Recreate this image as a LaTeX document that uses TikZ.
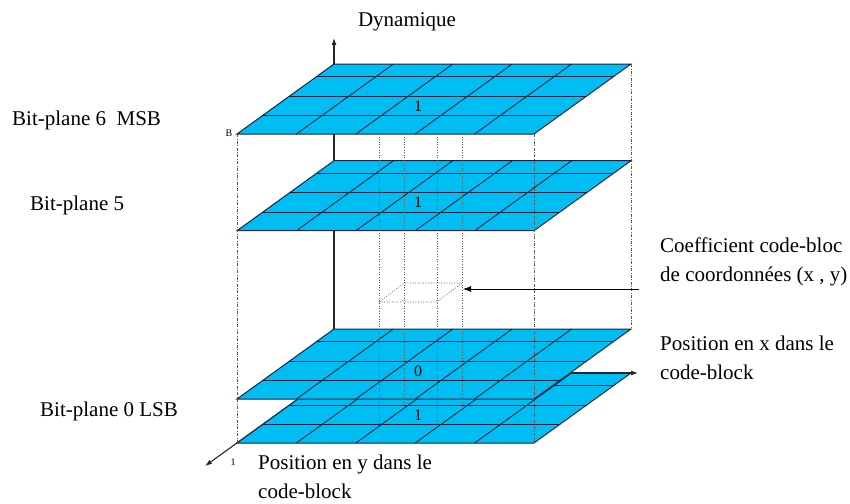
\documentclass[tikz,border=0pt]{standalone}
\usepackage{fontspec}
\setmainfont{Liberation Serif}
\usetikzlibrary{arrows.meta}

\definecolor{planeblue}{RGB}{0,190,242}
\definecolor{gridnavy}{RGB}{25,35,70}
\definecolor{guidegray}{RGB}{90,90,90}

\tikzset{
  gridline/.style={gridnavy, line width=0.9pt},
  axisline/.style={black!85, line width=1.1pt, -{Latex[length=7pt,width=5pt]}},
  guide/.style={guidegray, line width=0.7pt, dash pattern=on 3pt off 1.5pt on 0.8pt off 1.5pt},
  dotguide/.style={guidegray, line width=0.6pt, dash pattern=on 1pt off 1.6pt},
  label/.style={font=\fontsize{21}{29}\selectfont, inner sep=0pt, align=left},
  digit/.style={font=\fontsize{16}{18}\selectfont, inner sep=0pt},
  corner/.style={font=\fontsize{10}{12}\selectfont, inner sep=0pt},
}

% one bit-plane: #1,#2 = front-left corner, #3 = node name, #4 = bit value
\newcommand{\bitplane}[4]{%
  \filldraw[fill=planeblue, draw=gridnavy, line width=1pt]
    (#1,#2) -- ++(297,0) -- ++(97,-70) -- ++(-297,0) -- cycle;
  \foreach \r in {0.18,0.457,0.733}
    \draw[gridline] ({#1+97*(1-\r)},{#2-70*(1-\r)}) -- ++(297,0);
  \foreach \k in {1,...,4}
    \draw[gridline] ({#1+97+59.4*\k},{#2-70}) -- ({#1+59.4*\k},#2);
  \node[digit] (#3) at ({#1+181},{#2-28}) {#4};
}

\begin{document}
\begin{tikzpicture}[x=1pt, y=-1pt]
    \useasboundingbox (0,0) rectangle (850,503);

    % Axes
    \coordinate (O) at (334,373);
    \coordinate (zTip) at (334,38);
    \coordinate (xTip) at (638,373);
    \coordinate (yTip) at (205,466);
    \draw[axisline] (O) -- (zTip);
    \draw[axisline] (O) -- (yTip);

    % Bit-planes, top to bottom
    \bitplane{237}{134}{bit6}{1}
    \bitplane{237}{230.7}{bit5}{1}
    \bitplane{237}{443}{bitLow}{1}
    \draw[axisline] (O) -- (xTip);
    \bitplane{237}{399}{bit0}{0}

    % Projection guides
    \draw[guide] (237,134) -- (237,443);
    \draw[guide] (534,134) -- (534,443);
    \draw[guide] (631,64) -- (631,328);
    \foreach \gx/\gy in {379/424, 404/405, 437/424, 462/405}
        \draw[dotguide] (\gx,134) -- (\gx,\gy);

    % Selected coefficient
    \draw[dotguide] (379,302) -- (437,302) -- (462,283) -- (404,283) -- cycle;
    \coordinate (coefFrom) at (639,289);
    \coordinate (cellEast) at (463,289);
    \draw[line width=0.9pt, -{Latex[length=8pt,width=6pt]}] (coefFrom) -- (cellEast);

    % Labels
    \node[label] (dyn) at (407,22) {Dynamique};
    \node[label, anchor=west] (msb) at (12,120) {Bit-plane 6\ \ MSB};
    \node[label, anchor=west] (bp5) at (30,205) {Bit-plane 5};
    \node[label, anchor=west] (lsb) at (40,411) {Bit-plane 0 LSB};
    \node[label, anchor=west] (coef) at (660,261.5) {Coefficient code-bloc\\de coordonnées (x , y)};
    \node[label, anchor=west] (posx) at (660,358) {Position en x dans le\\code-block};
    \node[label, anchor=west] (posy) at (258,477) {Position en y dans le\\code-block};
    \node[corner] (cornerB) at (229,133) {B};
    \node[corner] (corner1) at (233,462) {1};

\end{tikzpicture}
\end{document}
